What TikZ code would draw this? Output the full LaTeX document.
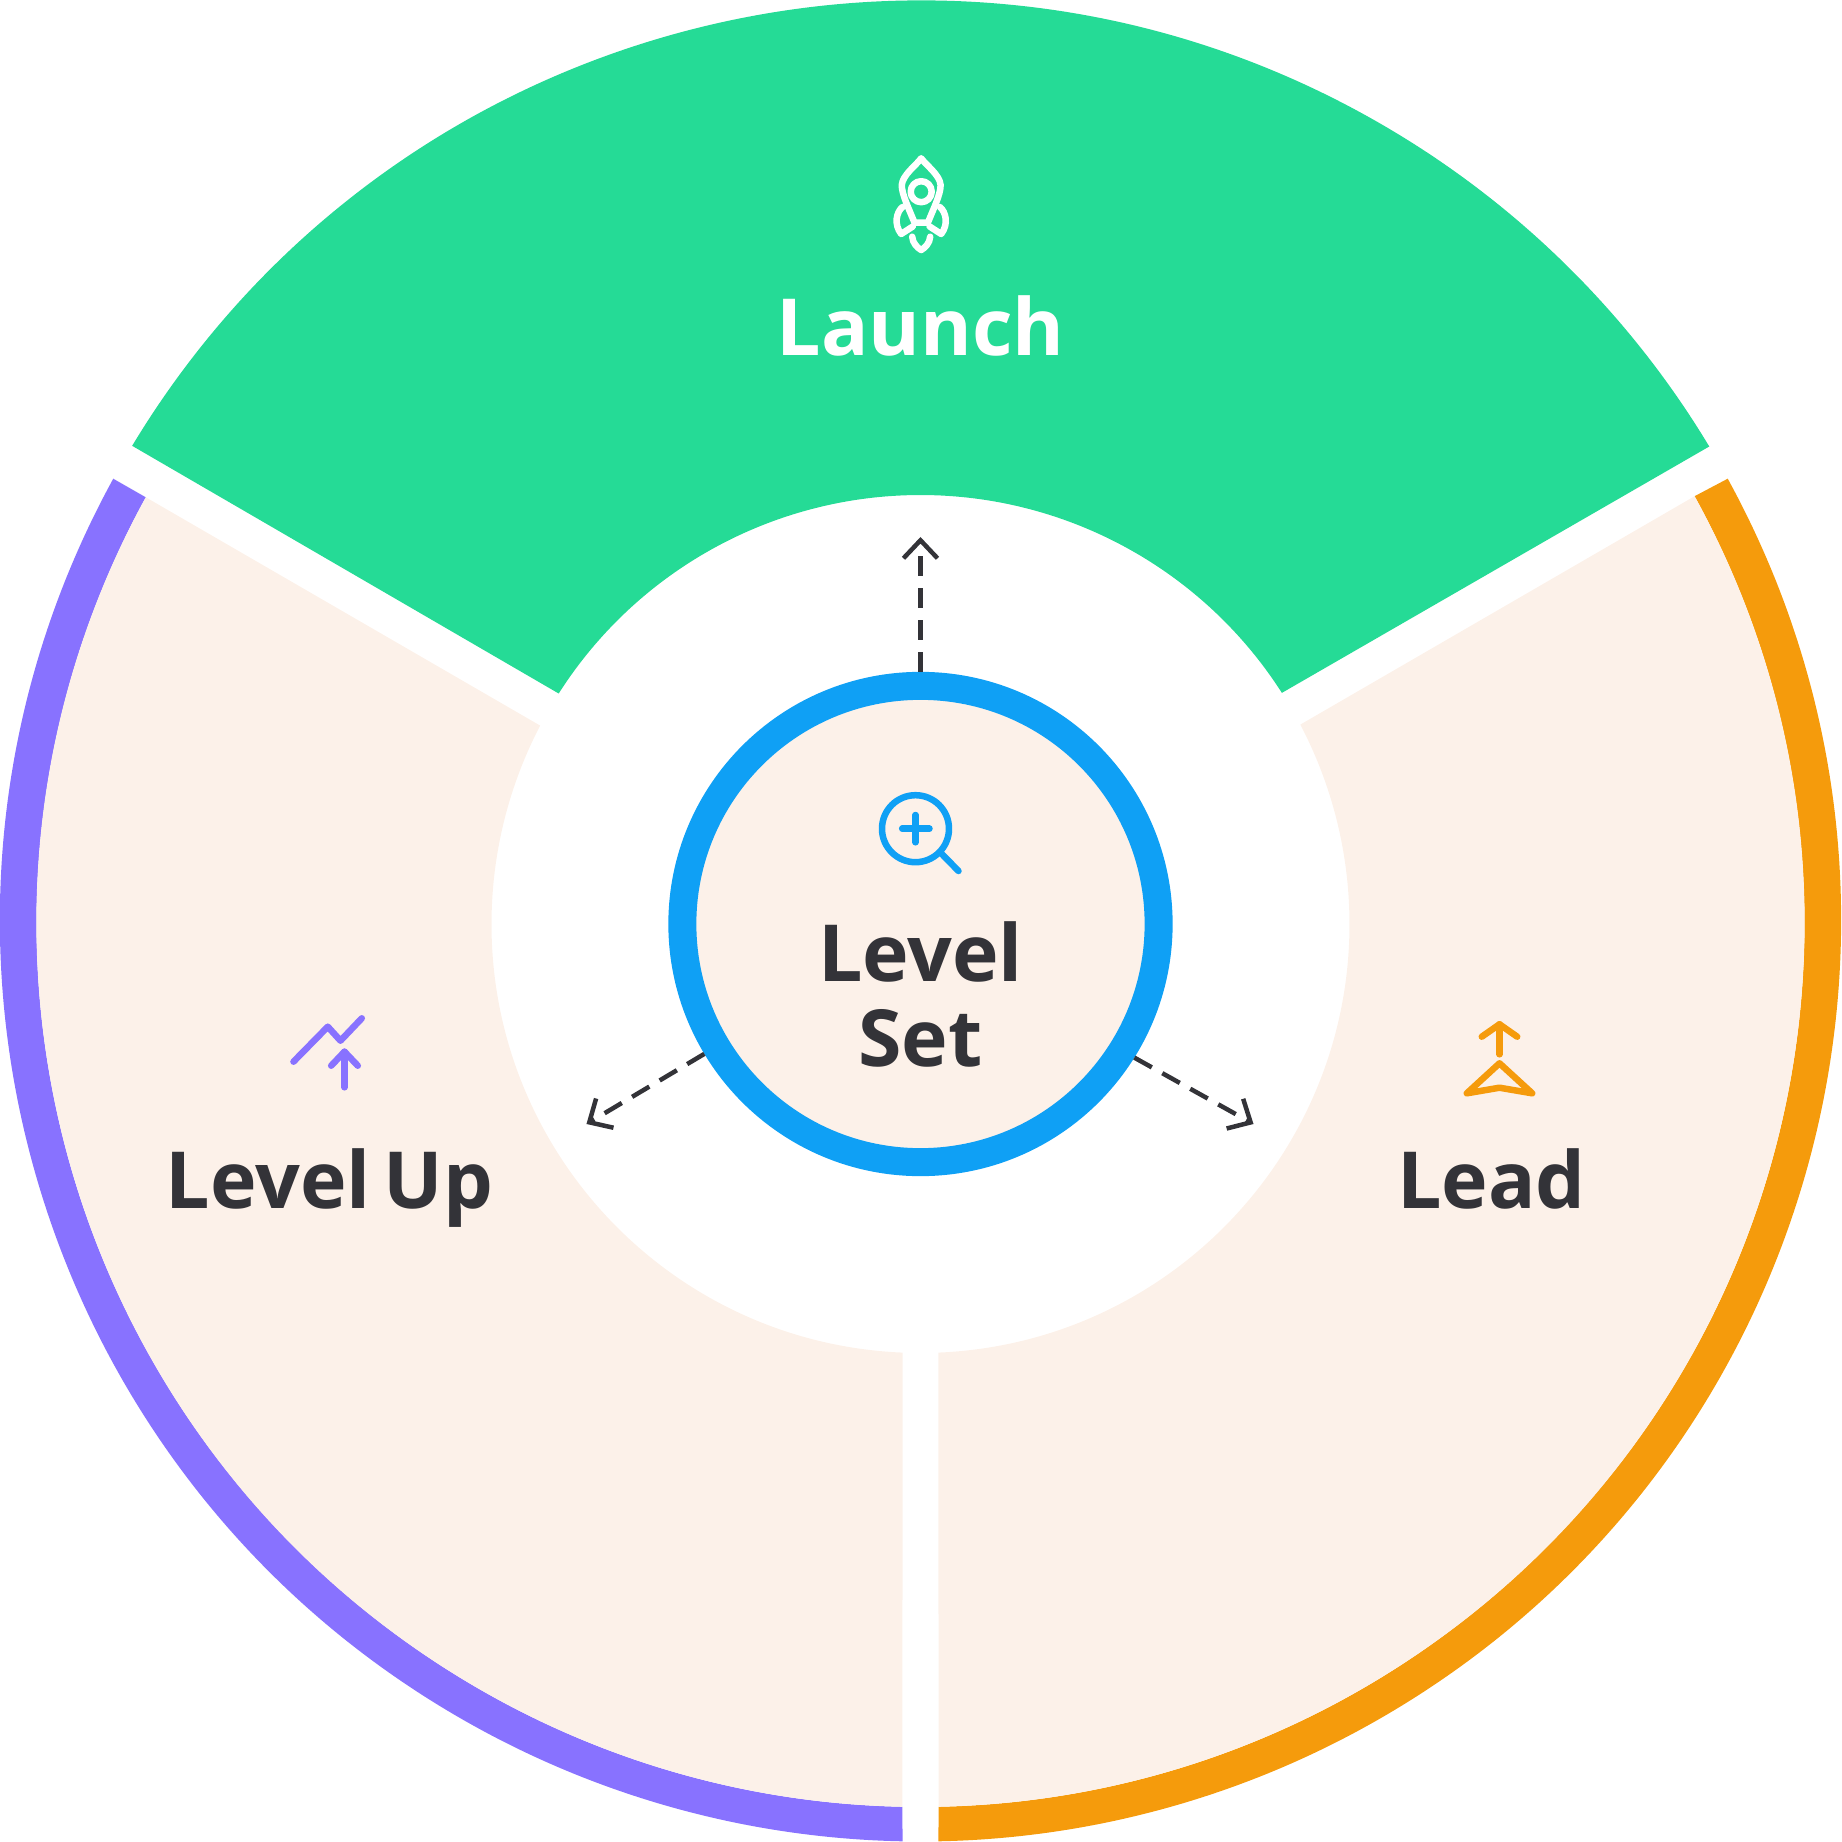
\documentclass[tikz,border=0pt]{standalone}
\usepackage{fontspec}
\setmainfont{Open Sans}
\usetikzlibrary{arrows.meta}
\definecolor{launchgreen}{HTML}{25DB96}
\definecolor{uppurple}{HTML}{8872FF}
\definecolor{leadorange}{HTML}{F59B0C}
\definecolor{setblue}{HTML}{0FA0F5}
\definecolor{sectorbeige}{HTML}{FCF1E9}
\definecolor{inkdark}{HTML}{333338}
\tikzset{
  label/.style={font=\fontsize{22.4}{23.9}\selectfont\bfseries, anchor=base, inner sep=0pt},
  icon/.style={line width=0.065cm, line cap=round, line join=round},
  dashedarrow/.style={draw=inkdark, line width=0.045cm, dash pattern=on 0.2cm off 0.12cm,
    -{Straight Barb[length=0.18cm, width=0.34cm]}},
}
\begin{document}
\begin{tikzpicture}[x=0.01cm, y=0.01cm]
  \useasboundingbox (-920.5,-921) rectangle (920.5,921);

  \fill[launchgreen] (148.92:920.5) arc[start angle=148.92, end angle=31.03, radius=920.5]
    -- ([shift={(0,-3)}]32.6:429) arc[start angle=32.6, end angle=147.5, radius=429] -- cycle;

  \fill[uppurple] (151.28:920.5) arc[start angle=151.28, end angle=268.88, radius=920.5]
    -- ([shift={(0,-2)}]268.83:884) arc[start angle=268.83, end angle=151.21, radius=884] -- cycle;
  \fill[sectorbeige] ([shift={(0,-2)}]151.21:884) arc[start angle=151.21, end angle=268.83, radius=884]
    -- ([shift={(0,-3)}]267.6:429) arc[start angle=267.6, end angle=152.45, radius=429] -- cycle;

  \fill[leadorange] (28.72:920.5) arc[start angle=28.72, end angle=-88.88, radius=920.5]
    -- ([shift={(0,-2)}]-88.83:884) arc[start angle=-88.83, end angle=28.87, radius=884] -- cycle;
  \fill[sectorbeige] ([shift={(0,-2)}]28.87:884) arc[start angle=28.87, end angle=-88.83, radius=884]
    -- ([shift={(0,-3)}]-87.6:429) arc[start angle=-87.6, end angle=27.7, radius=429] -- cycle;

  \node[circle, draw=setblue, fill=sectorbeige, line width=0.28cm, minimum size=4.76cm] (core) at (0,-3) {};
  \coordinate (launchtip) at (0,384);
  \coordinate (uptip) at (-334,-203);
  \coordinate (leadtip) at (333,-203);
  \draw[dashedarrow] (core) -- (launchtip);
  \draw[dashedarrow] (core.211.5) -- (uptip);
  \draw[dashedarrow] (core.-32) -- (leadtip);

  \node[label, text=white] (launchlabel) at (0,565) {Launch};
  \node[label, text=inkdark, align=center] (setlabel) at (0,-145) {Level\\Set};
  \node[label, text=inkdark] (uplabel) at (-591,-287) {\spaceskip=0.13cm Level Up};
  \node[label, text=inkdark] (leadlabel) at (571,-287) {Lead};

  \begin{scope}[shift={(-61,781)}, y=-0.01cm, icon, draw=white]
    \draw (61.7,18.3) .. controls (57,25) and (43,35) .. (42.3,45)
      .. controls (42,54) and (50,70) .. (55,82.7) -- (68.4,82.7)
      .. controls (73.4,70) and (81.4,54) .. (81.1,45)
      .. controls (80.4,35) and (66.4,25) .. (61.7,18.3) -- cycle;
    \draw (61.7,51.7) circle[radius=10.5];
    \draw (43,67) .. controls (37,72) and (34,84) .. (41.7,94) -- (53.3,86.5);
    \draw (80.4,67) .. controls (86.4,72) and (89.4,84) .. (81.7,94) -- (70.1,86.5);
    \draw (52.7,96.7) .. controls (53,103) and (58,108) .. (61.7,110)
      .. controls (65.4,108) and (70.4,103) .. (70.7,96.7);
  \end{scope}

  \begin{scope}[shift={(-61,151)}, y=-0.01cm, icon, draw=setblue]
    \draw (56,58.7) circle[radius=33.5];
    \draw (42.7,58.7) -- (70,58.7);
    \draw (56,45) -- (56,72.3);
    \draw (81.7,83.3) -- (99,101);
  \end{scope}

  \begin{scope}[shift={(-641,-79)}, y=-0.01cm, icon, draw=uppurple]
    \draw (14,61.7) -- (48.3,26.7) -- (61,40.7) -- (82.3,18.3);
    \draw (65,87.3) -- (65,51.7);
    \draw (51.7,65.7) -- (65,51.7) -- (78.3,65.7);
  \end{scope}

  \begin{scope}[shift={(529,-84)}, y=-0.01cm, icon, draw=leadorange]
    \draw (50,49.3) -- (50,19.3);
    \draw (32.3,31.7) -- (50,19.3) -- (67.7,31.7);
    \draw (50,58.3) -- (82.7,88.3) -- (50,82.7) -- (17.3,88.3) -- cycle;
  \end{scope}
\end{tikzpicture}
\end{document}
